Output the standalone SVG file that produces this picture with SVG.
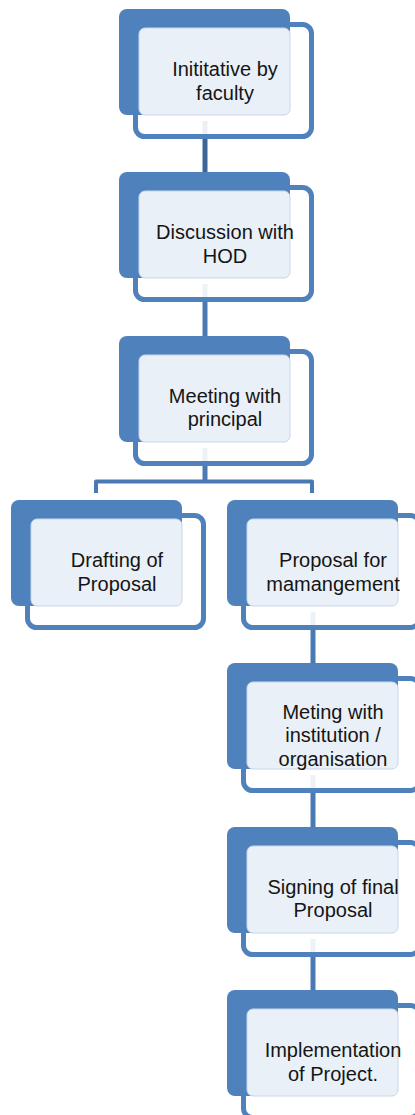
<svg xmlns="http://www.w3.org/2000/svg" width="415" height="1115" viewBox="0 0 415 1115">
<style>
.back{fill:#4F81BD}
.frame{fill:#FFFFFF;fill-opacity:0.9;stroke:#4F81BD;stroke-width:5}
.face{fill:#EAF0F7;stroke:#C8D6EA;stroke-width:1}
.lbl{font-family:"Liberation Sans",Arial,sans-serif;font-size:20px;fill:#151515;text-anchor:middle}
.conn{stroke:#4A7AB4;stroke-width:5;fill:none}
.conn.dark{stroke:#3D6697}
.branch{stroke:#4A7AB4;stroke-width:4;fill:none;stroke-linejoin:round}
</style>
<rect width="415" height="1115" fill="#FFFFFF"/>
<g id="connectors">
<line class="conn dark" x1="205" y1="121" x2="205" y2="172"/>
<line class="conn" x1="205" y1="284" x2="205" y2="336"/>
<line class="conn" x1="205" y1="448" x2="205" y2="482"/>
<path class="branch" d="M96,493 V481.5 H312 V493"/>
<line class="conn" x1="313" y1="612" x2="313" y2="663"/>
<line class="conn" x1="313" y1="775" x2="313" y2="827"/>
<line class="conn" x1="313" y1="939" x2="313" y2="990"/>
</g>
<g id="node1">
<rect class="frame" x="135.5" y="24.5" width="176" height="112" rx="9"/>
<rect class="back" x="119" y="9" width="171" height="106" rx="8"/>
<rect class="face" x="139" y="28" width="151" height="87" rx="6"/>
<text class="lbl" x="225" y="76">Inititative by</text>
<text class="lbl" x="225" y="99.5">faculty</text>
</g>
<g id="node2">
<rect class="frame" x="135.5" y="187.5" width="176" height="112" rx="9"/>
<rect class="back" x="119" y="172" width="171" height="106" rx="8"/>
<rect class="face" x="139" y="191" width="151" height="87" rx="6"/>
<text class="lbl" x="225" y="239">Discussion with</text>
<text class="lbl" x="225" y="262.5">HOD</text>
</g>
<g id="node3">
<rect class="frame" x="135.5" y="351.5" width="176" height="112" rx="9"/>
<rect class="back" x="119" y="336" width="171" height="106" rx="8"/>
<rect class="face" x="139" y="355" width="151" height="87" rx="6"/>
<text class="lbl" x="225" y="402.5">Meeting with</text>
<text class="lbl" x="225" y="426">principal</text>
</g>
<g id="node4">
<rect class="frame" x="27.5" y="515.5" width="176" height="112" rx="9"/>
<rect class="back" x="11" y="500" width="171" height="106" rx="8"/>
<rect class="face" x="31" y="519" width="151" height="87" rx="6"/>
<text class="lbl" x="117" y="567">Drafting of</text>
<text class="lbl" x="117" y="590.5">Proposal</text>
</g>
<g id="node5">
<rect class="frame" x="243.5" y="515.5" width="176" height="112" rx="9"/>
<rect class="back" x="227" y="500" width="171" height="106" rx="8"/>
<rect class="face" x="247" y="519" width="151" height="87" rx="6"/>
<text class="lbl" x="333" y="567">Proposal for</text>
<text class="lbl" x="333" y="590.5">mamangement</text>
</g>
<g id="node6">
<rect class="frame" x="243.5" y="678.5" width="176" height="112" rx="9"/>
<rect class="back" x="227" y="663" width="171" height="106" rx="8"/>
<rect class="face" x="247" y="682" width="151" height="87" rx="6"/>
<text class="lbl" x="333" y="718.5">Meting with</text>
<text class="lbl" x="333" y="742">institution /</text>
<text class="lbl" x="333" y="765.5">organisation</text>
</g>
<g id="node7">
<rect class="frame" x="243.5" y="842.5" width="176" height="112" rx="9"/>
<rect class="back" x="227" y="827" width="171" height="106" rx="8"/>
<rect class="face" x="247" y="846" width="151" height="87" rx="6"/>
<text class="lbl" x="333" y="893.5">Signing of final</text>
<text class="lbl" x="333" y="917">Proposal</text>
</g>
<g id="node8">
<rect class="frame" x="243.5" y="1005.5" width="176" height="112" rx="9"/>
<rect class="back" x="227" y="990" width="171" height="106" rx="8"/>
<rect class="face" x="247" y="1009" width="151" height="87" rx="6"/>
<text class="lbl" x="333" y="1057">Implementation</text>
<text class="lbl" x="333" y="1080.5">of Project.</text>
</g>
</svg>
